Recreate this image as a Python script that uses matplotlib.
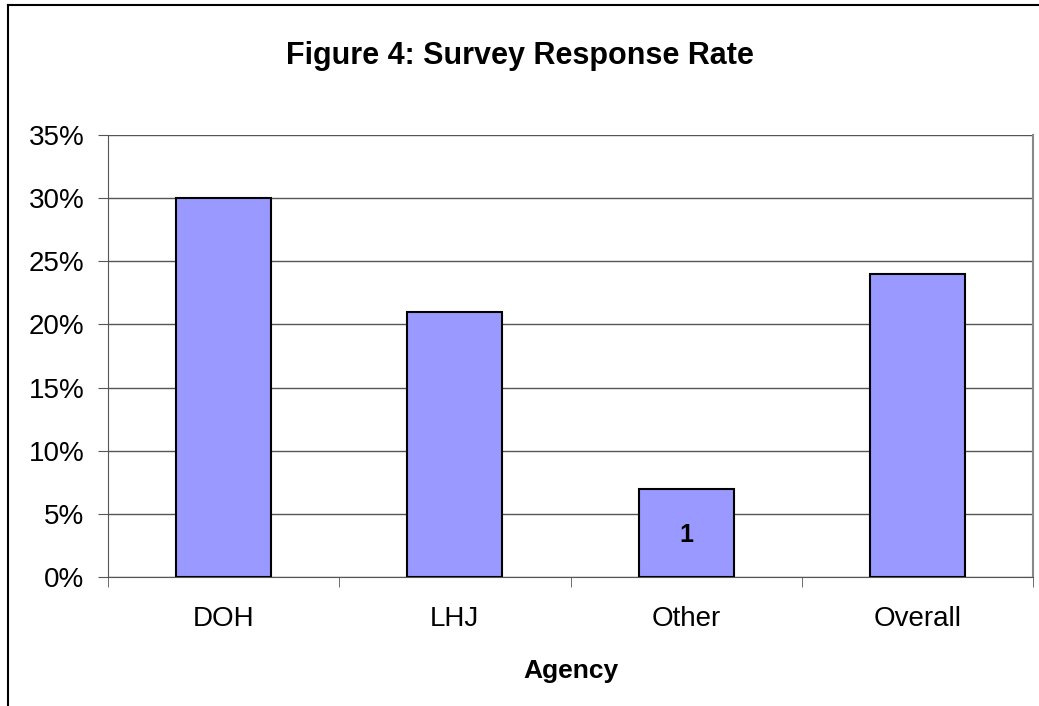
import matplotlib.pyplot as plt
import numpy as np
from matplotlib.ticker import FixedLocator, PercentFormatter

# Data
agencies = ["DOH", "LHJ", "Other", "Overall"]
response_rate = [30, 21, 7, 24]
bar_notes = ["", "", "1", ""]

plt.rcParams['font.family'] = ['Liberation Sans', 'DejaVu Sans']

fig = plt.figure(figsize=(10.39, 7.06), dpi=100)

# outer chart frame (left and top edges visible)
fig.add_artist(plt.Line2D([8 / 1039, 8 / 1039], [0, 1 - 5 / 706], color='black', lw=1.5,
                          transform=fig.transFigure))
fig.add_artist(plt.Line2D([8 / 1039, 1], [1 - 5 / 706, 1 - 5 / 706], color='black', lw=1.5,
                          transform=fig.transFigure))

ax = fig.add_axes([108 / 1039, (706 - 577) / 706, (1033 - 108) / 1039, (577 - 135) / 706])

x = np.arange(len(agencies))
bars = ax.bar(x, response_rate, width=0.41, color='#9999FF', edgecolor='black',
              linewidth=1.5, zorder=3)

for b, note in zip(bars, bar_notes):
    if note:
        ax.text(b.get_x() + b.get_width() / 2, 3.3, note, ha='center', va='center',
                fontsize=18, fontweight='bold', zorder=4)

ax.set_xlim(-0.5, len(agencies) - 0.5)
ax.set_ylim(0, 35)
ax.set_yticks(np.arange(0, 36, 5))
ax.yaxis.set_major_formatter(PercentFormatter(decimals=0))
ax.yaxis.grid(True, color='#555555', lw=1, zorder=0)

ax.set_xticks(x)
ax.set_xticklabels(agencies)
ax.xaxis.set_minor_locator(FixedLocator(np.arange(-0.5, len(agencies), 1)))
ax.tick_params(axis='x', which='major', length=0, pad=21, labelsize=20)
ax.tick_params(axis='x', which='minor', length=7, color='#555555', direction='out')
ax.tick_params(axis='y', length=7, color='#555555', direction='out', labelsize=20, pad=10)

for side in ['left', 'bottom']:
    ax.spines[side].set_color('#555555')
ax.spines['top'].set_visible(False)
ax.spines['right'].set_color('#888888')
ax.spines['right'].set_linewidth(1.5)

ax.set_xlabel("Agency", fontsize=19, fontweight='bold', labelpad=19)
fig.text(0.5, 1 - 56 / 706, "Figure 4: Survey Response Rate", ha='center', va='center',
         fontsize=22, fontweight='bold')

fig.savefig("out.png", dpi=100)
